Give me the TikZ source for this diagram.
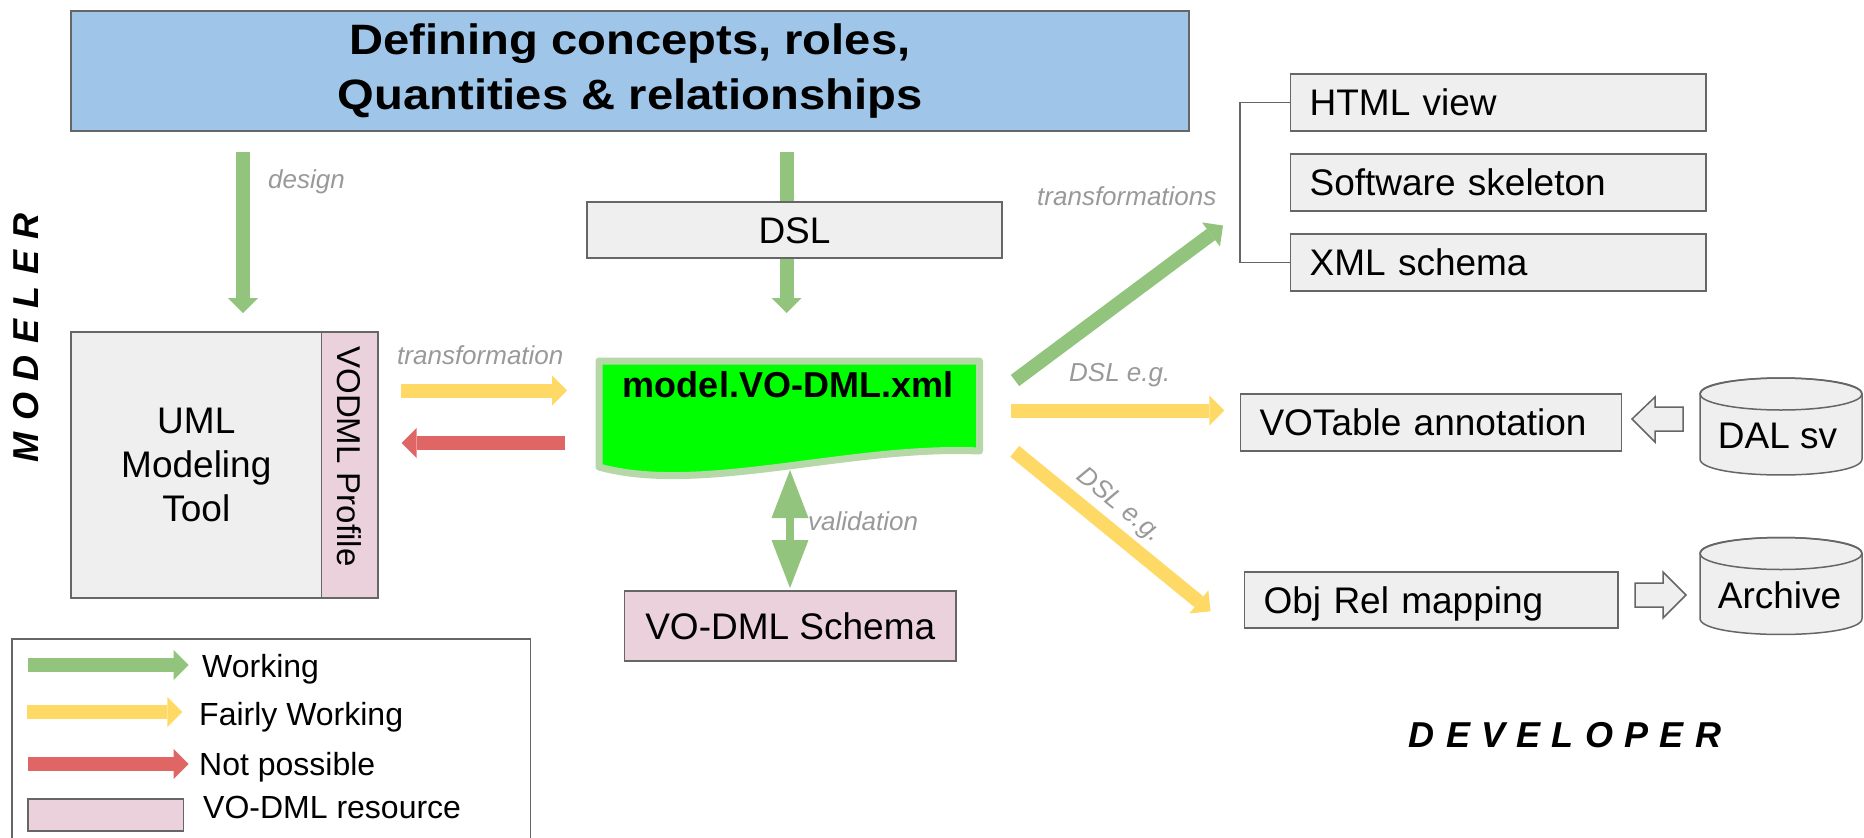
\documentclass[tikz,border=0pt]{standalone}
\usepackage{fontspec}
\setmainfont{Liberation Sans}
\newfontfamily\titlefont{Liberation Sans}[FakeStretch=1.11]
\usetikzlibrary{arrows.meta}
\definecolor{bgray}{HTML}{666666}
\definecolor{boxgray}{HTML}{EFEFEF}
\definecolor{pinkres}{HTML}{EAD1DC}
\definecolor{titleblue}{HTML}{9FC5E8}
\definecolor{agreen}{HTML}{93C47D}
\definecolor{ayellow}{HTML}{FFD966}
\definecolor{ared}{HTML}{E06666}
\definecolor{lgreen}{HTML}{B6D7A8}
\definecolor{vgreen}{HTML}{00FF00}
\definecolor{lblgray}{HTML}{999999}
\pgfdeclarelayer{bg}
\pgfsetlayers{bg,main}
\newcommand\drawcyl[4]{%
  \path[fill=boxgray, draw=bgray, line width=1.5pt] (#1,#3) -- (#1,#4)
    .. controls (#1,#4+21.3) and (#2,#4+21.3) .. (#2,#4) -- (#2,#3)
    .. controls (#2,#3-21.3) and (#1,#3-21.3) .. cycle;
  \draw[bgray, line width=1.5pt] ({(#1+#2)/2},#3) ellipse [x radius=81, y radius=16];}
\begin{document}
\begin{tikzpicture}[x=1pt,y=-1pt,
  box/.style={rectangle, draw=bgray, line width=1.5pt, fill=boxgray, inner sep=0pt},
  txtn/.style={font=\fontsize{37}{44}\selectfont},
  lbox/.style={box, txtn, text height=26.5pt, text depth=0pt, align=left, inner xsep=19pt, inner ysep=0pt, minimum height=57pt},
  cbox/.style={box, txtn, text height=26.5pt, text depth=0pt, align=center},
  lbl/.style={font=\fontsize{26}{30}\selectfont\itshape, text=lblgray, inner sep=0pt},
  legtxt/.style={font=\fontsize{32}{38}\selectfont, inner sep=0pt, anchor=base west},
  role/.style={font=\fontsize{36}{40}\selectfont\bfseries\itshape, inner sep=0pt},
  blk/.style={line width=14pt, -{Triangle[length=15pt,width=30pt,line width=0pt]}},
  hollow/.style={draw=bgray, fill=boxgray, line width=1.5pt, line join=miter}
]
\useasboundingbox (0,0) rectangle (1864,838);

% title
\node[rectangle, draw=bgray, line width=1.5pt, fill=titleblue, minimum width=1118pt, minimum height=120pt, inner sep=0pt, align=center,
  font=\titlefont\bfseries\fontsize{42.5}{54.5}\selectfont] (title) at (630,71) {Defining concepts, roles,\\Quantities \& relationships};

% left side
\node[box, txtn, align=center, minimum width=250.6pt, minimum height=266pt] (uml) at (196.3,465) {UML\\Modeling\\Tool};
\node[box, fill=pinkres, minimum width=56.4pt, minimum height=266pt] (profile) at (349.8,465) {};
\node[rotate=-90, font=\fontsize{33}{40}\selectfont, inner sep=0pt] (proftext) at (349.5,456.5) {VODML Profile};
\node[role, rotate=90] (modeler) at (26.5,337.5) {M\hspace{11.5pt}O\hspace{11.5pt}D\hspace{11.5pt}E\hspace{11.5pt}L\hspace{11.5pt}E\hspace{11.5pt}R};

% centre
\node[cbox, minimum width=415pt, minimum height=56pt] (dsl) at (794.5,230) {DSL};
\path[line width=7pt, draw=lgreen, fill=vgreen, line join=round] (599,361) -- (979.5,361) -- (979.5,451)
  .. controls (850,445) and (700,495) .. (599,467) -- cycle;
\node[font=\fontsize{36}{40}\selectfont\bfseries, inner sep=0pt, anchor=base] (model) at (788,397) {model.VO-DML.xml};
\node[cbox, fill=pinkres, minimum width=331.5pt, minimum height=70pt] (schema) at (790.25,626) {VO-DML Schema};

% right side
\node[lbox, text width=377.4pt] (html) at (1498.3,102.5) {HTML view};
\node[lbox, text width=377.4pt] (soft) at (1498.3,182.5) {Software skeleton};
\node[lbox, text width=377.4pt] (xml) at (1498.3,262.5) {XML schema};
\draw[bgray, line width=1.5pt] (html.west) -- ++(-50.1,0) |- (xml.west);
\node[lbox, text width=343pt] (votable) at (1431,422.5) {VOTable annotation};
\node[lbox, text width=335.4pt, minimum height=56.3pt] (objrel) at (1431.3,599.9) {Obj Rel mapping};
\drawcyl{1700}{1862}{394}{459}
\node[txtn, inner sep=0pt, anchor=base] (dal) at (1777.5,448) {DAL sv};
\drawcyl{1700}{1862}{553.5}{618.5}
\node[txtn, inner sep=0pt, anchor=base] (archive) at (1779.5,608) {Archive};
\path[hollow] (1632,419) -- (1655,397) -- (1655,407) -- (1683,407) -- (1683,431) -- (1655,431) -- (1655,442) -- cycle;
\path[hollow] (1635,583) -- (1663,583) -- (1663,572) -- (1686,595) -- (1663,618) -- (1663,607) -- (1635,607) -- cycle;
\node[role] (developer) at (1565,735) {D\hspace{11.3pt}E\hspace{11.3pt}V\hspace{11.3pt}E\hspace{11.3pt}L\hspace{11.3pt}O\hspace{11.3pt}P\hspace{11.3pt}E\hspace{11.3pt}R};

% connector end points
\coordinate (designA) at (243,152);   \coordinate (designB) at (243,313);
\coordinate (dslA) at (786.5,152);    \coordinate (dslB) at (786.5,313);
\coordinate (trA) at (401,390.5);     \coordinate (trB) at (567,390.5);
\coordinate (rdA) at (565,443);       \coordinate (rdB) at (401.7,443);
\coordinate (vaA) at (790,470);       \coordinate (vaB) at (790,588);
\coordinate (dgA) at (1015,380.5);    \coordinate (dgB) at (1223,225.5);
\coordinate (dyA) at (1010.7,410.5);  \coordinate (dyB) at (1224.3,410.5);
\coordinate (dlA) at (1014.7,451.3);  \coordinate (dlB) at (1210.5,611.3);

\begin{pgfonlayer}{bg}
\draw[blk, agreen] (dslA) -- (dslB);
\end{pgfonlayer}
\draw[blk, agreen] (designA) -- (designB);
\draw[blk, ayellow] (trA) -- (trB);
\draw[blk, ared] (rdA) -- (rdB);
\draw[agreen, line width=8pt, {Triangle[length=48pt,width=37pt,line width=0pt]}-{Triangle[length=48pt,width=37pt,line width=0pt]}] (vaA) -- (vaB);
\draw[blk, agreen] (dgA) -- (dgB);
\draw[blk, ayellow] (dyA) -- (dyB);
\draw[blk, ayellow] (dlA) -- (dlB);

% labels
\node[lbl, anchor=base west] (ldesign) at (268,188) {design};
\node[lbl, anchor=base west] (ltransf) at (397,364) {transformation};
\node[lbl, anchor=base west] (ltransfs) at (1037,205) {transformations};
\node[lbl, anchor=base west] (ldsl1) at (1069,381) {DSL e.g.};
\node[lbl, anchor=base west] (lvalid) at (808,530) {validation};
\node[lbl, rotate=-39.25] (ldsl2) at (1119,506) {DSL e.g.};

% legend
\draw[bgray, line width=1.5pt] (12,845) -- (12,639) -- (530.6,639) -- (530.6,845);
\coordinate (lgA) at (27.8,665);  \coordinate (lgB) at (188.6,665);
\coordinate (lyA) at (27,712);    \coordinate (lyB) at (182.4,712);
\coordinate (lrA) at (27.8,764);  \coordinate (lrB) at (188.6,764);
\draw[blk, agreen] (lgA) -- (lgB);
\draw[blk, ayellow] (lyA) -- (lyB);
\draw[blk, ared] (lrA) -- (lrB);
\node[box, fill=pinkres, minimum width=155.9pt, minimum height=32pt] (legres) at (105.75,815) {};
\node[legtxt] (tw) at (202,677) {Working};
\node[legtxt] (tf) at (199,725) {Fairly Working};
\node[legtxt] (tn) at (199,775) {Not possible};
\node[legtxt] (tr) at (203,818) {VO-DML resource};
\end{tikzpicture}
\end{document}
